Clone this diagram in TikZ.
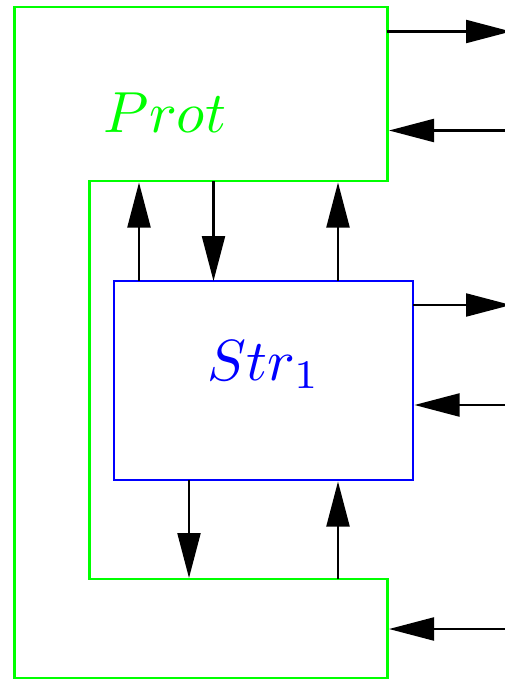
\documentclass[tikz,border=0pt]{standalone}
\usetikzlibrary{arrows.meta}
\begin{document}
\begin{tikzpicture}[x=1pt,y=-1pt,
  arr/.style={line width=2.2pt, draw=black, -{Triangle[length=45pt,width=23pt]}},
  protline/.style={draw=green, line width=2.4pt},
  strbox/.style={draw=blue, line width=2.2pt, inner sep=0pt, outer sep=0pt,
    minimum width=299pt, minimum height=199pt, anchor=north west},
  lbl/.style={scale=5.8, anchor=base, inner sep=0pt}]
\useasboundingbox (0,0) rectangle (505,679);
% Prot shape
\draw[protline] (14.3,7) -- (387.3,7) -- (387.3,181) -- (89.3,181) -- (89.3,579)
  -- (387.3,579) -- (387.3,678) -- (14.3,678) -- cycle;
\node[lbl, text=green] (prot) at (165,133) {$Prot$};
% Str box
\node[strbox] (str) at (114,281) {};
\node[lbl, text=blue] (strlbl) at (264,380) {$Str_1$};
% coordinates on Prot boundary
\coordinate (pA) at (387.3,31.5);
\coordinate (pB) at (389,130.5);
\coordinate (pC) at (389,629);
\coordinate (tU1) at (139,182.5);
\coordinate (tD1) at (213.5,181);
\coordinate (tU2) at (338,182.5);
\coordinate (bD1) at (189,578);
\coordinate (bU2) at (338,579);
% outside ends
\coordinate (oA) at (511,31.5);
\coordinate (oB) at (511,130.5);
\coordinate (oC) at (511,629);
\coordinate (oD) at (511,305);
\coordinate (oE) at (511,405);
% arrows
\draw[arr] (pA) -- (oA);
\draw[arr] (oB) -- (pB);
\draw[arr] (oC) -- (pC);
\draw[arr] (str.north west -| tU1) -- (tU1);
\draw[arr] (tD1) -- (str.north west -| tD1);
\draw[arr] (str.north west -| tU2) -- (tU2);
\draw[arr] (str.south west -| bD1) -- (bD1);
\draw[arr] (bU2) -- ([yshift=-1.5pt]str.south west -| bU2);
\draw[arr] (str.north east |- oD) -- (oD);
\draw[arr] (oE) -- ([xshift=1.5pt]str.north east |- oE);
\end{tikzpicture}
\end{document}
